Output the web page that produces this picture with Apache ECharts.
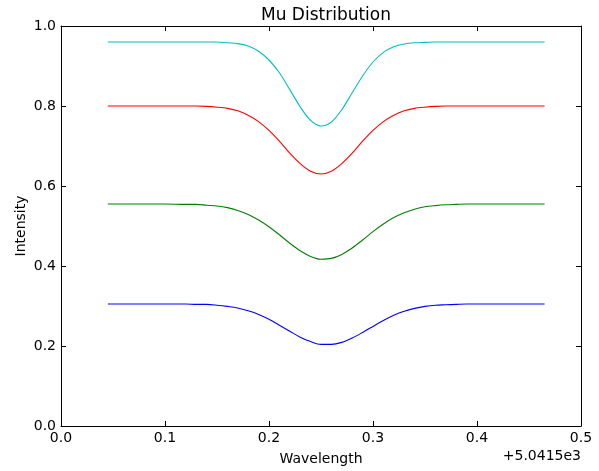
<!DOCTYPE html>
<html>
<head>
  <meta charset="utf-8">
  <title>Mu Distribution</title>
  <style type="text/css">
    body{ margin: 0; background: #fff; }
    #main{ width: 599px; height: 471px; }
  </style>
</head>
<body>
<div id="main"></div>
<script type="text/javascript" src="https://cdn.jsdelivr.net/npm/echarts@6/dist/echarts.min.js"></script>
<script type="text/javascript">
  // wavelength offset from 5041.5
  var wavelength = [0.045, 0.07, 0.10, 0.12, 0.13, 0.14, 0.15, 0.16, 0.17, 0.18, 0.19,
    0.20, 0.21, 0.22, 0.23, 0.24, 0.25, 0.26, 0.27, 0.28, 0.29,
    0.30, 0.31, 0.32, 0.33, 0.34, 0.35, 0.36, 0.37, 0.38, 0.39,
    0.40, 0.42, 0.44, 0.465];

  var cyanLine = [0.960, 0.960, 0.960, 0.960, 0.960, 0.960, 0.960, 0.958, 0.956, 0.950, 0.937,
    0.915, 0.883, 0.841, 0.798, 0.764, 0.750, 0.760, 0.791, 0.833, 0.875,
    0.910, 0.934, 0.948, 0.955, 0.958, 0.959, 0.960, 0.960, 0.960, 0.960,
    0.960, 0.960, 0.960, 0.960];

  var redLine = [0.800, 0.800, 0.800, 0.800, 0.800, 0.799, 0.797, 0.794, 0.788, 0.777, 0.761,
    0.739, 0.712, 0.682, 0.656, 0.637, 0.630, 0.637, 0.656, 0.682, 0.712,
    0.739, 0.761, 0.777, 0.788, 0.794, 0.797, 0.799, 0.800, 0.800, 0.800,
    0.800, 0.800, 0.800, 0.800];

  var greenLine = [0.555, 0.555, 0.555, 0.554, 0.554, 0.552, 0.550, 0.546, 0.539, 0.529, 0.515,
    0.498, 0.478, 0.457, 0.438, 0.424, 0.417, 0.419, 0.429, 0.445, 0.465,
    0.486, 0.505, 0.521, 0.533, 0.542, 0.548, 0.551, 0.553, 0.554, 0.555,
    0.555, 0.555, 0.555, 0.555];

  var blueLine = [0.305, 0.305, 0.305, 0.305, 0.304, 0.304, 0.302, 0.299, 0.295, 0.288, 0.279,
    0.267, 0.252, 0.237, 0.222, 0.211, 0.204, 0.204, 0.209, 0.220, 0.234,
    0.249, 0.264, 0.277, 0.287, 0.294, 0.299, 0.302, 0.303, 0.304, 0.305,
    0.305, 0.305, 0.305, 0.305];

  var lines = [
    { name: 'blue', data: blueLine, color: '#0000ff' },
    { name: 'green', data: greenLine, color: '#008000' },
    { name: 'red', data: redLine, color: '#ff0000' },
    { name: 'cyan', data: cyanLine, color: '#00bfbf' }
  ];

  var font = 'DejaVu Sans';
  var myChart = echarts.init(document.getElementById('main'));

  function pair(arr) {
    return wavelength.map(function (w, i) { return [w, arr[i]]; });
  }

  var tickIn = { show: true, inside: true, length: 5, lineStyle: { color: '#000', width: 1 } };
  var axisLine = { show: true, onZero: false, lineStyle: { color: '#000', width: 1 } };

  option = {
    animation: false,
    title: {
      text: 'Mu Distribution',
      left: 321,
      top: 2,
      textAlign: 'center',
      textStyle: { fontFamily: font, fontSize: 17, fontWeight: 'normal', color: '#000' }
    },
    grid: { left: 61, right: 18, top: 26, bottom: 45 },
    xAxis: [{
      type: 'value', min: 0, max: 0.5, interval: 0.1,
      name: 'Wavelength', nameLocation: 'middle', nameGap: 26,
      nameTextStyle: { fontFamily: font, fontSize: 14, color: '#000' },
      axisLine: axisLine, axisTick: tickIn, splitLine: { show: false },
      axisLabel: { fontFamily: font, fontSize: 14, color: '#000', margin: 5,
        formatter: function (v) { return v.toFixed(1); } }
    }, {
      type: 'value', min: 0, max: 0.5, interval: 0.1, position: 'top',
      axisLine: axisLine, axisTick: tickIn, axisLabel: { show: false }, splitLine: { show: false }
    }],
    yAxis: [{
      type: 'value', min: 0, max: 1, interval: 0.2,
      axisLine: axisLine, axisTick: tickIn, splitLine: { show: false },
      axisLabel: { fontFamily: font, fontSize: 14, color: '#000', margin: 5,
        formatter: function (v) { return v.toFixed(1); } }
    }, {
      type: 'value', min: 0, max: 1, interval: 0.2, position: 'right',
      axisLine: axisLine, axisTick: tickIn, axisLabel: { show: false }, splitLine: { show: false }
    }],
    graphic: [{
      type: 'text', right: 18, top: 449,
      style: { text: '+5.0415e3', font: '14px "DejaVu Sans"', fill: '#000' }
    }, {
      type: 'text', x: 21, y: 226, rotation: Math.PI / 2,
      style: { text: 'Intensity', font: '14px "DejaVu Sans"', fill: '#000',
        textAlign: 'center', textVerticalAlign: 'middle' }
    }],
    series: lines.map(function (l) {
      return {
        name: l.name, type: 'line', data: pair(l.data), smooth: 0.3,
        showSymbol: false, symbol: 'none',
        lineStyle: { color: l.color, width: 1.1 }
      };
    })
  };

  myChart.setOption(option);
</script>
</body>
</html>
